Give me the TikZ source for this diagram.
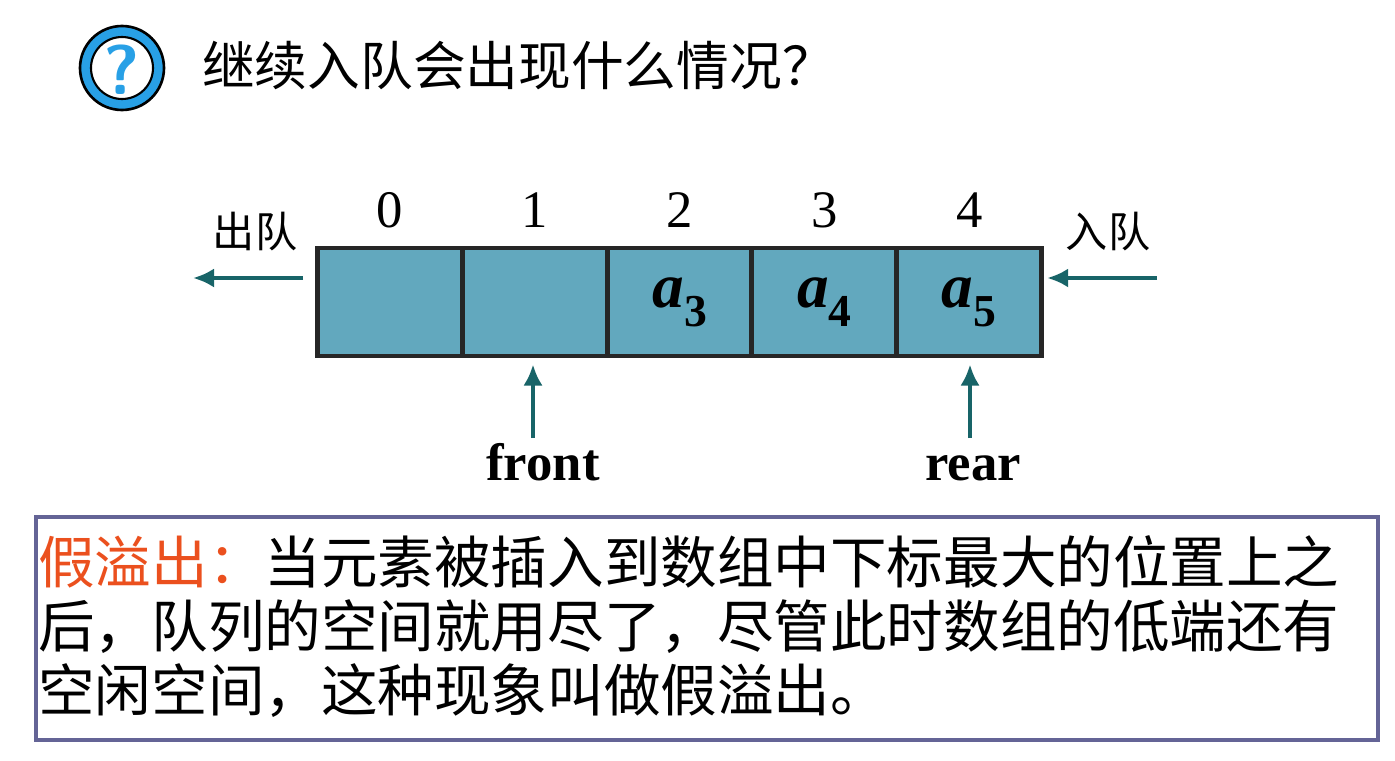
\documentclass[tikz,border=0pt]{standalone}
\usepackage{fontspec}
\setmainfont{Liberation Serif}
\newfontfamily\cjk{Noto Sans CJK SC}
\usetikzlibrary{positioning,arrows.meta}
\definecolor{cellblue}{RGB}{98,168,190}
\definecolor{arrowteal}{RGB}{24,100,104}
\definecolor{framegray}{RGB}{100,100,150}
\definecolor{iconblue}{RGB}{40,160,230}
\definecolor{redtext}{RGB}{235,80,30}
\tikzset{
  cell/.style={draw=black!85, line width=2.8pt, fill=cellblue, minimum width=2.9cm, minimum height=2.16cm, inner sep=0pt},
  idx/.style={font=\fontsize{30}{30}\selectfont},
  ptr/.style={arrowteal, line width=2.6pt, -{Latex[length=12pt,width=11pt]}},
  cjklabel/.style={font=\cjk\fontsize{24}{24}\selectfont},
  ptrlabel/.style={font=\fontsize{30}{30}\selectfont\bfseries, anchor=base}
}
\newcommand\elem[1]{\fontsize{36}{36}\selectfont\bfseries\itshape a\raisebox{-0.3em}{\upshape\fontsize{26}{26}\selectfont #1}}
\begin{document}
\begin{tikzpicture}[x=0.02cm,y=-0.02cm]
  \useasboundingbox (0,0) rectangle (1395,760);
  % question icon
  \draw[line width=1.5pt, fill=iconblue] (122,68) circle (42);
  \draw[line width=1.2pt, fill=white] (122,68) circle (31);
  \node (icon) at (122,70) {\fontsize{40}{40}\selectfont\bfseries\sffamily\textcolor{iconblue}{?}};
  \node[anchor=west, font=\cjk\fontsize{30}{30}\selectfont] (title) at (196,66) {继续入队会出现什么情况？};
  % cells
  \foreach \i/\t in {0/,1/,2/3,3/4,4/5} {
    \node[cell] (c\i) at (390+144.8*\i,302) {\ifx\t\empty\else\elem{\t}\fi};
    \node[idx] (n\i) at (390+144.8*\i,210) {\i};
  }
  \node[cjklabel] (out) at (255,232) {出队};
  \node[cjklabel] (in) at (1108,232) {入队};
  \coordinate (outend) at (193,278);
  \coordinate (instart) at (1157,278);
  \draw[ptr] ([xshift=-0.24cm]c0.west |- outend) -- (outend);
  \draw[ptr] (instart) -- ([xshift=0.06cm]c4.east |- instart);
  \node[ptrlabel] (front) at (543,480) {front};
  \node[ptrlabel] (rear) at (973,480) {rear};
  \coordinate (fronttail) at (533,438);
  \coordinate (reartail) at (970,438);
  \draw[ptr] (fronttail) -- ([yshift=-0.12cm]c1.south -| fronttail);
  \draw[ptr] (reartail) -- ([yshift=-0.12cm]c4.south -| reartail);
  % explanation
  \draw[framegray, line width=2.2pt] (36,517) rectangle (1378,740);
  \node[anchor=north west, align=left, inner sep=0pt, font=\cjk\fontsize{32.2}{36.5}\selectfont] (note) at (38,535)
    {\textcolor{redtext}{假溢出：}当元素被插入到数组中下标最大的位置上之\\
     后，队列的空间就用尽了，尽管此时数组的低端还有\\
     空闲空间，这种现象叫做假溢出。};
\end{tikzpicture}
\end{document}
